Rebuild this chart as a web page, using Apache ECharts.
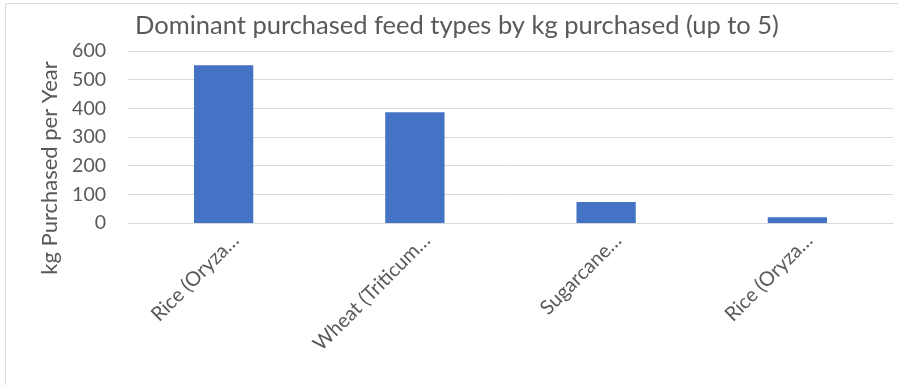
<!DOCTYPE html>
<html><head><meta charset="utf-8">
<script src="https://cdn.jsdelivr.net/npm/echarts@6/dist/echarts.min.js"></script>
<style>html,body{margin:0;padding:0;background:#fff}#c{width:898px;height:385px}</style>
</head><body><div id="c"></div>
<script>
const titleText = 'Dominant purchased feed types by kg purchased (up to 5)';
const yAxisName = 'kg Purchased per Year';
const categories = ['Rice (Oryza…', 'Wheat (Triticum…', 'Sugarcane…', 'Rice (Oryza…'];
const values = [550, 386, 73, 20];
const yTicks = [0, 100, 200, 300, 400, 500, 600];

const chart = echarts.init(document.getElementById('c'), null, {renderer: 'canvas'});
const FONT = 'Lato';
chart.setOption({
  animation: false,
  backgroundColor: '#fff',
  graphic: [{
    type: 'rect', silent: true,
    shape: {x: 5.5, y: 3.5, width: 1000, height: 1000},
    style: {fill: 'none', stroke: '#d9d9d9', lineWidth: 1}
  }],
  title: {
    text: titleText, left: 130, top: 8, padding: 5,
    textStyle: {fontFamily: FONT, fontSize: 25.5, fontWeight: 'normal', color: '#595959'}
  },
  grid: {left: 128, right: 5, top: 51, bottom: 162, containLabel: false},
  xAxis: {
    type: 'category', data: categories,
    axisLine: {show: true, lineStyle: {color: '#d9d9d9'}},
    axisTick: {show: false},
    axisLabel: {rotate: 45, interval: 0, margin: 2, verticalAlign: 'top', lineHeight: 34,
      fontFamily: FONT, fontSize: 20, color: '#595959'}
  },
  yAxis: {
    type: 'value', min: yTicks[0], max: yTicks[yTicks.length - 1], interval: 100,
    name: yAxisName, nameLocation: 'middle', nameGap: 65, nameRotate: 90,
    nameTextStyle: {fontFamily: FONT, fontSize: 22, color: '#595959', padding: [0, 62, 0, 0]},
    axisLine: {show: false}, axisTick: {show: false},
    axisLabel: {fontFamily: FONT, fontSize: 19.5, color: '#595959', margin: 22},
    splitLine: {lineStyle: {color: '#d9d9d9', width: 1}}
  },
  series: [{
    type: 'bar', data: values, barWidth: '31%',
    itemStyle: {color: '#4472c4'}
  }]
});
</script></body></html>
